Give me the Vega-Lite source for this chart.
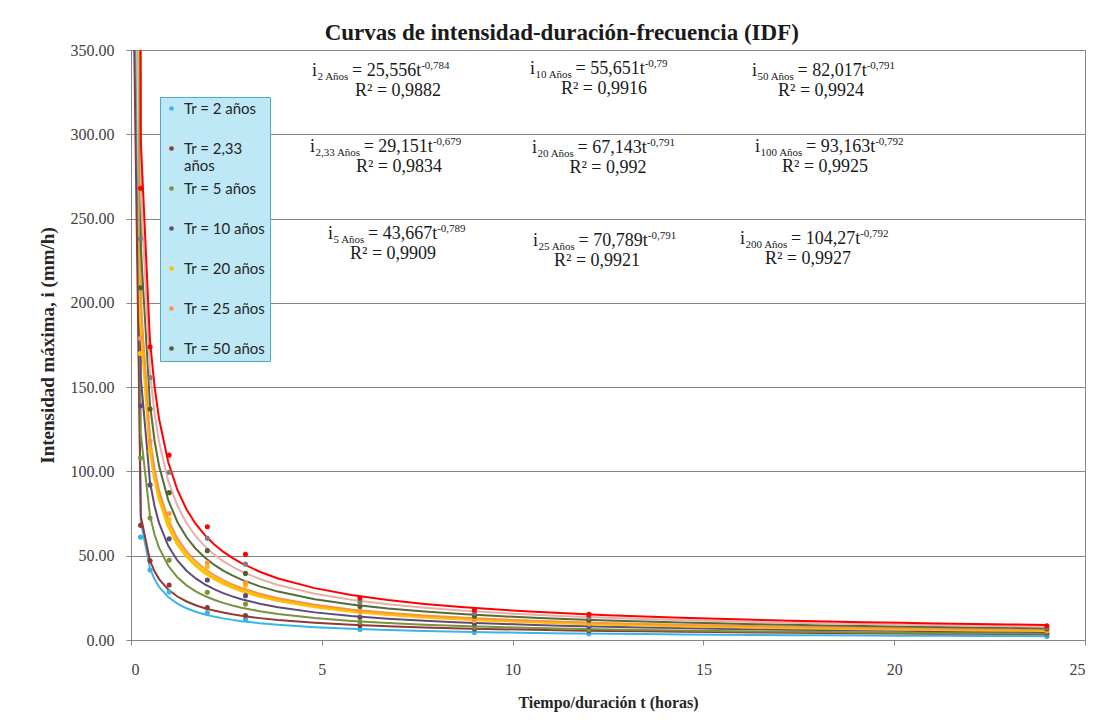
{
  "$schema": "https://vega.github.io/schema/vega-lite/v6.json",
  "width": 954,
  "height": 590,
  "autosize": {"type": "none"},
  "padding": {"left": 131, "top": 50, "right": 24, "bottom": 87},
  "background": "white",
  "title": {
    "text": "Curvas de intensidad-duración-frecuencia (IDF)",
    "font": "Liberation Serif",
    "fontSize": 23,
    "fontWeight": "bold",
    "color": "#1a1a1a",
    "anchor": "middle",
    "frame": "bounds",
    "offset": 10,
    "dy": 13
  },
  "datasets": {
    "pts": [
      {"serie": "Tr = 2 años", "t": 0.25, "i": 61}, {"serie": "Tr = 2 años", "t": 0.5, "i": 41.5}, {"serie": "Tr = 2 años", "t": 1, "i": 28.5}, {"serie": "Tr = 2 años", "t": 2, "i": 16.2}, {"serie": "Tr = 2 años", "t": 3, "i": 12.3}, {"serie": "Tr = 2 años", "t": 6, "i": 6.3}, {"serie": "Tr = 2 años", "t": 9, "i": 4.5}, {"serie": "Tr = 2 años", "t": 12, "i": 3.7}, {"serie": "Tr = 2 años", "t": 24, "i": 2.1},
      {"serie": "Tr = 2,33 años", "t": 0.25, "i": 68}, {"serie": "Tr = 2,33 años", "t": 0.5, "i": 47}, {"serie": "Tr = 2,33 años", "t": 1, "i": 32.6}, {"serie": "Tr = 2,33 años", "t": 2, "i": 19.2}, {"serie": "Tr = 2,33 años", "t": 3, "i": 14.5}, {"serie": "Tr = 2,33 años", "t": 6, "i": 8.6}, {"serie": "Tr = 2,33 años", "t": 9, "i": 6.5}, {"serie": "Tr = 2,33 años", "t": 12, "i": 5.5}, {"serie": "Tr = 2,33 años", "t": 24, "i": 3.4},
      {"serie": "Tr = 5 años", "t": 0.25, "i": 108}, {"serie": "Tr = 5 años", "t": 0.5, "i": 72.4}, {"serie": "Tr = 5 años", "t": 1, "i": 47.4}, {"serie": "Tr = 5 años", "t": 2, "i": 28.3}, {"serie": "Tr = 5 años", "t": 3, "i": 21.3}, {"serie": "Tr = 5 años", "t": 6, "i": 10.6}, {"serie": "Tr = 5 años", "t": 9, "i": 7.6}, {"serie": "Tr = 5 años", "t": 12, "i": 6.3}, {"serie": "Tr = 5 años", "t": 24, "i": 3.6},
      {"serie": "Tr = 10 años", "t": 0.25, "i": 139}, {"serie": "Tr = 10 años", "t": 0.5, "i": 92}, {"serie": "Tr = 10 años", "t": 1, "i": 60}, {"serie": "Tr = 10 años", "t": 2, "i": 35.6}, {"serie": "Tr = 10 años", "t": 3, "i": 26.3}, {"serie": "Tr = 10 años", "t": 6, "i": 13.5}, {"serie": "Tr = 10 años", "t": 9, "i": 9.6}, {"serie": "Tr = 10 años", "t": 12, "i": 8.0}, {"serie": "Tr = 10 años", "t": 24, "i": 4.5},
      {"serie": "Tr = 20 años", "t": 0.25, "i": 170}, {"serie": "Tr = 20 años", "t": 0.5, "i": 112}, {"serie": "Tr = 20 años", "t": 1, "i": 71.5}, {"serie": "Tr = 20 años", "t": 2, "i": 43.5}, {"serie": "Tr = 20 años", "t": 3, "i": 32.4}, {"serie": "Tr = 20 años", "t": 6, "i": 16.3}, {"serie": "Tr = 20 años", "t": 9, "i": 11.6}, {"serie": "Tr = 20 años", "t": 12, "i": 9.6}, {"serie": "Tr = 20 años", "t": 24, "i": 5.4},
      {"serie": "Tr = 25 años", "t": 0.25, "i": 179}, {"serie": "Tr = 25 años", "t": 0.5, "i": 118}, {"serie": "Tr = 25 años", "t": 1, "i": 75}, {"serie": "Tr = 25 años", "t": 2, "i": 45.8}, {"serie": "Tr = 25 años", "t": 3, "i": 34.1}, {"serie": "Tr = 25 años", "t": 6, "i": 17.2}, {"serie": "Tr = 25 años", "t": 9, "i": 12.2}, {"serie": "Tr = 25 años", "t": 12, "i": 10.1}, {"serie": "Tr = 25 años", "t": 24, "i": 5.7},
      {"serie": "Tr = 50 años", "t": 0.25, "i": 209}, {"serie": "Tr = 50 años", "t": 0.5, "i": 137}, {"serie": "Tr = 50 años", "t": 1, "i": 87.4}, {"serie": "Tr = 50 años", "t": 2, "i": 53}, {"serie": "Tr = 50 años", "t": 3, "i": 39.5}, {"serie": "Tr = 50 años", "t": 6, "i": 19.9}, {"serie": "Tr = 50 años", "t": 9, "i": 14.1}, {"serie": "Tr = 50 años", "t": 12, "i": 11.7}, {"serie": "Tr = 50 años", "t": 24, "i": 6.6},
      {"serie": "Tr = 100 años", "t": 0.25, "i": 238}, {"serie": "Tr = 100 años", "t": 0.5, "i": 155.7}, {"serie": "Tr = 100 años", "t": 1, "i": 99.5}, {"serie": "Tr = 100 años", "t": 2, "i": 60.3}, {"serie": "Tr = 100 años", "t": 3, "i": 45}, {"serie": "Tr = 100 años", "t": 6, "i": 22.5}, {"serie": "Tr = 100 años", "t": 9, "i": 16.0}, {"serie": "Tr = 100 años", "t": 12, "i": 13.3}, {"serie": "Tr = 100 años", "t": 24, "i": 7.5},
      {"serie": "Tr = 200 años", "t": 0.25, "i": 268}, {"serie": "Tr = 200 años", "t": 0.5, "i": 174}, {"serie": "Tr = 200 años", "t": 1, "i": 109.7}, {"serie": "Tr = 200 años", "t": 2, "i": 67.2}, {"serie": "Tr = 200 años", "t": 3, "i": 50.8}, {"serie": "Tr = 200 años", "t": 6, "i": 24.9}, {"serie": "Tr = 200 años", "t": 9, "i": 17.8}, {"serie": "Tr = 200 años", "t": 12, "i": 15.2}, {"serie": "Tr = 200 años", "t": 24, "i": 8.4}
    ],
    "ann": [
      {"part": "i", "txt": "i", "x": 4.743, "y": 334.6}, {"part": "sub", "txt": "2 Años", "x": 4.887, "y": 332.4}, {"part": "main", "txt": "= 25,556t", "x": 5.791, "y": 334.6}, {"part": "sup", "txt": "-0,784", "x": 7.605, "y": 338.7}, {"part": "r2", "txt": "R² = 0,9882", "x": 6.997, "y": 322.7},
      {"part": "i", "txt": "i", "x": 10.456, "y": 335.8}, {"part": "sub", "txt": "10 Años", "x": 10.6, "y": 333.6}, {"part": "main", "txt": "= 55,651t", "x": 11.648, "y": 335.8}, {"part": "sup", "txt": "-0,79", "x": 13.462, "y": 339.9}, {"part": "r2", "txt": "R² = 0,9916", "x": 12.395, "y": 323.9},
      {"part": "i", "txt": "i", "x": 16.274, "y": 334.6}, {"part": "sub", "txt": "50 Años", "x": 16.418, "y": 332.4}, {"part": "main", "txt": "= 82,017t", "x": 17.466, "y": 334.6}, {"part": "sup", "txt": "-0,791", "x": 19.279, "y": 338.7}, {"part": "r2", "txt": "R² = 0,9924", "x": 18.082, "y": 322.7},
      {"part": "i", "txt": "i", "x": 4.691, "y": 289.5}, {"part": "sub", "txt": "2,33 Años", "x": 4.835, "y": 287.3}, {"part": "main", "txt": "= 29,151t", "x": 6.098, "y": 289.5}, {"part": "sup", "txt": "-0,679", "x": 7.911, "y": 293.6}, {"part": "r2", "txt": "R² = 0,9834", "x": 7.023, "y": 277.6},
      {"part": "i", "txt": "i", "x": 10.508, "y": 288.9}, {"part": "sub", "txt": "20 Años", "x": 10.653, "y": 286.7}, {"part": "main", "txt": "= 67,143t", "x": 11.701, "y": 288.9}, {"part": "sup", "txt": "-0,791", "x": 13.514, "y": 293.1}, {"part": "r2", "txt": "R² = 0,992", "x": 12.5, "y": 277.0},
      {"part": "i", "txt": "i", "x": 16.352, "y": 289.5}, {"part": "sub", "txt": "100 Años", "x": 16.496, "y": 287.3}, {"part": "main", "txt": "= 93,163t", "x": 17.689, "y": 289.5}, {"part": "sup", "txt": "-0,792", "x": 19.502, "y": 293.6}, {"part": "r2", "txt": "R² = 0,9925", "x": 18.187, "y": 277.6},
      {"part": "i", "txt": "i", "x": 5.162, "y": 237.9}, {"part": "sub", "txt": "5 Años", "x": 5.307, "y": 235.7}, {"part": "main", "txt": "= 43,667t", "x": 6.211, "y": 237.9}, {"part": "sup", "txt": "-0,789", "x": 8.024, "y": 242.0}, {"part": "r2", "txt": "R² = 0,9909", "x": 6.866, "y": 226.0},
      {"part": "i", "txt": "i", "x": 10.535, "y": 233.7}, {"part": "sub", "txt": "25 Años", "x": 10.679, "y": 231.6}, {"part": "main", "txt": "= 70,789t", "x": 11.727, "y": 233.7}, {"part": "sup", "txt": "-0,791", "x": 13.541, "y": 237.9}, {"part": "r2", "txt": "R² = 0,9921", "x": 12.212, "y": 221.9},
      {"part": "i", "txt": "i", "x": 15.959, "y": 234.9}, {"part": "sub", "txt": "200 Años", "x": 16.103, "y": 232.7}, {"part": "main", "txt": "= 104,27t", "x": 17.296, "y": 234.9}, {"part": "sup", "txt": "-0,792", "x": 19.109, "y": 239.1}, {"part": "r2", "txt": "R² = 0,9927", "x": 17.741, "y": 223.0}
    ]
  },
  "layer": [
    {
      "data": {"name": "pts"},
      "transform": [
        {"regression": "i", "on": "t", "groupby": ["serie"], "method": "pow", "extent": [0.0167, 24]}
      ],
      "mark": {"type": "line", "clip": true},
      "encoding": {
        "x": {
          "field": "t", "type": "quantitative",
          "scale": {"domain": [0, 25], "nice": false, "zero": false},
          "axis": {
            "title": "Tiempo/duración t (horas)",
            "values": [0, 5, 10, 15, 20, 25],
            "format": "d",
            "grid": false,
            "tickSize": 5,
            "tickColor": "#868686",
            "domainColor": "#868686",
            "labelFont": "Liberation Serif",
            "labelFontSize": 16,
            "labelColor": "#404040",
            "labelPadding": 16,
            "titleFont": "Liberation Serif",
            "titleFontSize": 16,
            "titleFontWeight": "bold",
            "titleColor": "#262626",
            "titlePadding": 17
          }
        },
        "y": {
          "field": "i", "type": "quantitative",
          "scale": {"domain": [0, 350], "nice": false},
          "axis": {
            "title": "Intensidad máxima, i (mm/h)",
            "values": [0, 50, 100, 150, 200, 250, 300, 350],
            "format": ".2f",
            "grid": true,
            "gridColor": "#868686",
            "gridWidth": 1,
            "tickSize": 5,
            "tickColor": "#868686",
            "domainColor": "#868686",
            "labelFont": "Liberation Serif",
            "labelFontSize": 16,
            "labelColor": "#404040",
            "labelPadding": 12,
            "titleFont": "Liberation Serif",
            "titleFontSize": 19,
            "titleFontWeight": "bold",
            "titleColor": "#262626",
            "titlePadding": 13
          }
        },
        "stroke": {
          "field": "serie", "type": "nominal",
          "scale": {
            "domain": ["Tr = 200 años", "Tr = 100 años", "Tr = 50 años", "Tr = 25 años", "Tr = 20 años", "Tr = 10 años", "Tr = 5 años", "Tr = 2,33 años", "Tr = 2 años"],
            "range": ["#ff0000", "#e6b0aa", "#566b3a", "#f79646", "#ffc000", "#604a7b", "#77933c", "#953735", "#38b6e8"]
          },
          "legend": null
        },
        "strokeWidth": {"condition": {"test": "datum.serie === 'Tr = 20 años'", "value": 3.5}, "value": 2}
      }
    },
    {
      "data": {"name": "pts"},
      "mark": {"type": "circle", "size": 26, "opacity": 1},
      "encoding": {
        "x": {"field": "t", "type": "quantitative"},
        "y": {"field": "i", "type": "quantitative"},
        "color": {
          "field": "serie", "type": "nominal",
          "scale": {
            "domain": ["Tr = 2 años", "Tr = 2,33 años", "Tr = 5 años", "Tr = 10 años", "Tr = 20 años", "Tr = 25 años", "Tr = 50 años", "Tr = 100 años", "Tr = 200 años"],
            "range": ["#33b5e5", "#953735", "#77933c", "#604a7b", "#ffc000", "#f79646", "#4f6228", "#7f7f7f", "#ff0000"]
          },
          "legend": {
            "values": ["Tr = 2 años", "Tr = 2,33 años", "Tr = 5 años", "Tr = 10 años", "Tr = 20 años", "Tr = 25 años", "Tr = 50 años"],
            "orient": "none",
            "legendX": 29,
            "legendY": 47,
            "title": null,
            "symbolType": "circle",
            "symbolSize": 22,
            "labelFont": "Lato",
            "labelFontSize": 15,
            "labelColor": "#262626",
            "labelOffset": 5,
            "labelLimit": 200,
            "rowPadding": 7,
            "padding": 4,
            "gridAlign": "all",
            "fillColor": "#bee8f6",
            "strokeColor": "#4aacc5",
            "labelExpr": "datum.label == 'Tr = 2,33 años' ? ['Tr = 2,33', 'años'] : datum.label"
          }
        }
      }
    },
    {
      "data": {"name": "ann"},
      "transform": [{"filter": "datum.part == 'i' || datum.part == 'main'"}],
      "mark": {"type": "text", "align": "left", "baseline": "alphabetic", "font": "Liberation Serif", "fontSize": 18, "color": "#1a1a1a"},
      "encoding": {
        "x": {"field": "x", "type": "quantitative"},
        "y": {"field": "y", "type": "quantitative"},
        "text": {"field": "txt"}
      }
    },
    {
      "data": {"name": "ann"},
      "transform": [{"filter": "datum.part == 'sub' || datum.part == 'sup'"}],
      "mark": {"type": "text", "align": "left", "baseline": "alphabetic", "font": "Liberation Serif", "fontSize": 11, "color": "#1a1a1a"},
      "encoding": {
        "x": {"field": "x", "type": "quantitative"},
        "y": {"field": "y", "type": "quantitative"},
        "text": {"field": "txt"}
      }
    },
    {
      "data": {"name": "ann"},
      "transform": [{"filter": "datum.part == 'r2'"}],
      "mark": {"type": "text", "align": "center", "baseline": "alphabetic", "font": "Liberation Serif", "fontSize": 18, "color": "#1a1a1a"},
      "encoding": {
        "x": {"field": "x", "type": "quantitative"},
        "y": {"field": "y", "type": "quantitative"},
        "text": {"field": "txt"}
      }
    }
  ],
  "config": {
    "view": {"stroke": "#868686", "strokeWidth": 1}
  }
}
